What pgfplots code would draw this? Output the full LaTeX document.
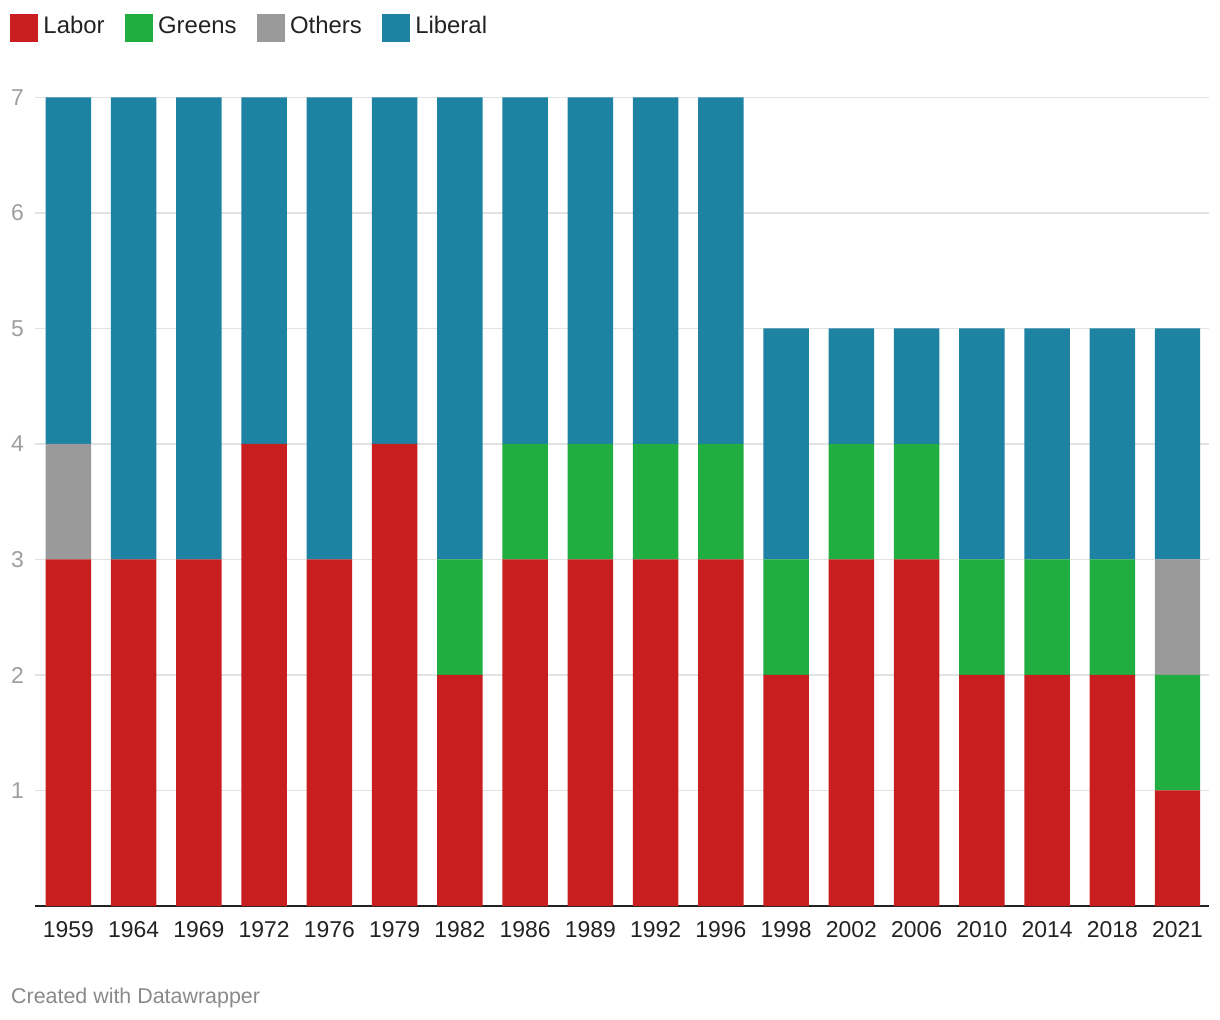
\documentclass[border=0pt]{standalone}
\usepackage{pgfplots}
\pgfplotsset{compat=1.18}
\usetikzlibrary{calc}
\usepackage{fontspec}
\setmainfont{Liberation Sans}
\definecolor{labor}{HTML}{C91E1F}
\definecolor{greens}{HTML}{21AE41}
\definecolor{others}{HTML}{9A9A9A}
\definecolor{liberal}{HTML}{1E82A2}
\definecolor{textdark}{HTML}{222222}
\definecolor{tickgray}{HTML}{9E9E9E}
\definecolor{footgray}{HTML}{8A8A8A}
\definecolor{gridc}{HTML}{E2E2E2}
\begin{document}
\begin{tikzpicture}
\begin{axis}[
  scale only axis, width=1174bp, height=808.5bp,
  ybar stacked, bar width=0.697,
  xmin=-0.513, xmax=17.483, ymin=0, ymax=7,
  xtick={0,...,17},
  xticklabels={1959,1964,1969,1972,1976,1979,1982,1986,1989,1992,1996,1998,2002,2006,2010,2014,2018,2021},
  ytick={1,...,7},
  /pgf/number format/assume math mode=true,
  ymajorgrids, grid style={draw=gridc, line width=1.5bp},
  axis line style={draw=none},
  major tick length=0pt,
  clip=false,
  tick label style={font=\fontsize{23}{27}\selectfont, inner sep=0pt},
  xticklabel style={text=textdark, anchor=north, yshift=-15.5bp},
  yticklabel style={text=tickgray, anchor=west, xshift=-24bp},
  legend columns=-1,
  legend style={at={(-0.0213,1.1033)}, anchor=north west, draw=none, fill=none,
    inner sep=0pt, outer sep=0pt, font=\fontsize{24}{28}\selectfont, text=textdark,
    nodes={inner sep=0pt},
    /tikz/every odd column/.append style={column sep=5.5bp},
    /tikz/every even column/.append style={column sep=20bp}},
  legend cell align=left,
  legend image code/.code={\fill[#1] (0bp,-16.5bp) rectangle (28bp,11.5bp);},
]
\addplot[fill=labor, draw=none] coordinates {(0,3) (1,3) (2,3) (3,4) (4,3) (5,4) (6,2) (7,3) (8,3) (9,3) (10,3) (11,2) (12,3) (13,3) (14,2) (15,2) (16,2) (17,1)};
\addlegendentry{Labor}
\addplot[fill=greens, draw=none] coordinates {(0,0) (1,0) (2,0) (3,0) (4,0) (5,0) (6,1) (7,1) (8,1) (9,1) (10,1) (11,1) (12,1) (13,1) (14,1) (15,1) (16,1) (17,1)};
\addlegendentry{Greens}
\addplot[fill=others, draw=none] coordinates {(0,1) (1,0) (2,0) (3,0) (4,0) (5,0) (6,0) (7,0) (8,0) (9,0) (10,0) (11,0) (12,0) (13,0) (14,0) (15,0) (16,0) (17,1)};
\addlegendentry{Others}
\addplot[fill=liberal, draw=none] coordinates {(0,3) (1,4) (2,4) (3,3) (4,4) (5,3) (6,4) (7,3) (8,3) (9,3) (10,3) (11,2) (12,1) (13,1) (14,2) (15,2) (16,2) (17,2)};
\addlegendentry{Liberal}
\draw[draw=textdark, line width=2bp] (rel axis cs:0,0) -- (rel axis cs:1,0);
\coordinate (BL) at (rel axis cs:0,0);
\end{axis}
\node[anchor=base west, inner sep=0pt, text=footgray, font=\fontsize{21.5}{25}\selectfont] at ($(BL)+(-24bp,-97bp)$) {Created with Datawrapper};
\pgfresetboundingbox
\path[use as bounding box] ($(BL)+(-35bp,-114bp)$) rectangle ($(BL)+(1185bp,906bp)$);
\end{tikzpicture}
\end{document}
